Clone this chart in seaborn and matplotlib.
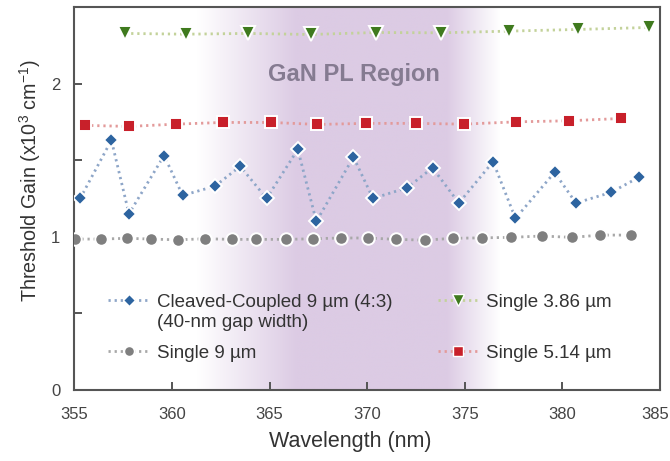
import numpy as np
import pandas as pd
import matplotlib
matplotlib.use("Agg")
import matplotlib.pyplot as plt
import matplotlib.transforms as mtransforms
from matplotlib.lines import Line2D
import seaborn as sns

# ---------------- data ----------------
cc_wl = [355.3, 356.9, 357.8, 359.6, 360.55, 362.2, 363.5, 364.85, 366.45, 367.4, 369.3,
         370.3, 372.05, 373.35, 374.7, 376.45, 377.6, 379.6, 380.7, 382.5, 383.95]
cc_gain = [1.25, 1.63, 1.15, 1.53, 1.27, 1.33, 1.46, 1.25, 1.57, 1.10, 1.52,
           1.25, 1.32, 1.45, 1.22, 1.49, 1.12, 1.42, 1.22, 1.29, 1.39]

s9_wl = [355.05, 356.35, 357.7, 358.95, 360.3, 361.7, 363.1, 364.3, 365.85, 367.25, 368.65,
         370.05, 371.5, 372.95, 374.4, 375.9, 377.35, 378.95, 380.5, 381.95, 383.5]
s9_gain = [0.985, 0.985, 0.99, 0.985, 0.98, 0.987, 0.983, 0.983, 0.983, 0.987, 0.992,
           0.992, 0.983, 0.978, 0.99, 0.993, 0.996, 1.005, 0.996, 1.011, 1.011]

s386_wl = [357.6, 360.7, 363.9, 367.1, 370.45, 373.8, 377.25, 380.8, 384.45]
s386_gain = [2.327, 2.322, 2.327, 2.32, 2.333, 2.331, 2.342, 2.353, 2.366]

s514_wl = [355.55, 357.8, 360.2, 362.6, 365.1, 367.45, 369.95, 372.5, 374.95, 377.65, 380.35, 383.0]
s514_gain = [1.727, 1.72, 1.735, 1.746, 1.746, 1.733, 1.74, 1.74, 1.735, 1.75, 1.757, 1.772]

x_ticks = [355, 360, 365, 370, 375, 380, 385]
y_ticks = [0, 0.5, 1, 1.5, 2]
y_labels = ["0", "", "1", "", "2"]
pl_region = (361.3, 366.4, 374.1, 376.8)   # fade-in start, plateau start, plateau end, fade-out end

# ---------------- style ----------------
sns.set_theme(style="white")
plt.rcParams['font.family'] = ['Liberation Sans', 'DejaVu Sans']
plt.rcParams['mathtext.fontset'] = 'custom'
plt.rcParams['mathtext.rm'] = 'Liberation Sans'
plt.rcParams['mathtext.it'] = 'Liberation Sans:italic'
plt.rcParams['mathtext.bf'] = 'Liberation Sans:bold'

fig = plt.figure(figsize=(6.70, 4.61), dpi=100)
ax = fig.add_axes([0.1109, 0.154, 0.8741, 0.831])

# PL region gradient
xs = np.linspace(355, 385, 600)
a0, a1, a2, a3 = pl_region
alpha = np.interp(xs, [a0, a1, a2, a3], [0, 1, 1, 0])
base = np.array([220, 203, 228]) / 255.0
rgb = 1 - alpha[:, None] * (1 - base[None, :])
img = np.tile(rgb[None, :, :], (2, 1, 1))
ax.imshow(img, extent=[355, 385, 0, 2.5], aspect='auto', zorder=0, interpolation='bilinear')

dot = (0, (0.8, 1.4))
series = [
    (cc_wl, cc_gain, "Cleaved-Coupled 9 µm (4:3)", 'D', '#2d64a0', '#8ea6c8', 7.2),
    (s9_wl, s9_gain, "Single 9 µm", 'o', '#7f7f7f', '#a8a8a8', 9.0),
    (s386_wl, s386_gain, "Single 3.86 µm", 'v', '#3f7a1e', '#c3d29a', 10.5),
    (s514_wl, s514_gain, "Single 5.14 µm", 's', '#c8202a', '#e39a9a', 8.8),
]
handles = {}
for wl, g, lab, mk, mc, lc, ms in series:
    df = pd.DataFrame({"wl": wl, "g": g})
    sns.lineplot(data=df, x="wl", y="g", ax=ax, sort=False, color=lc, lw=2.0,
                 linestyle=dot, zorder=2, legend=False)
    ax.plot(wl, g, linestyle='none', marker=mk, markersize=ms, markerfacecolor=mc,
            markeredgecolor='white', markeredgewidth=1.4, zorder=3)
    handles[lab] = Line2D([], [], color=lc, lw=2.0, linestyle=dot, marker=mk,
                          markersize=ms * 0.8, markerfacecolor=mc,
                          markeredgecolor='white', markeredgewidth=1.0)

blank = Line2D([], [], linestyle='none', marker=None)
leg_kw = dict(frameon=False, loc='upper left', borderpad=0, borderaxespad=0,
              handlelength=2.2, handletextpad=0.4, columnspacing=2.4,
              labelspacing=0.2, fontsize=13.5, labelcolor='#333333')
# upper legend rows (two-line entry on the left, single entry on the right)
leg1 = ax.legend([handles["Cleaved-Coupled 9 µm (4:3)"], blank, handles["Single 3.86 µm"], blank],
                 ["Cleaved-Coupled 9 µm (4:3)", "(40-nm gap width)", "Single 3.86 µm", " "],
                 ncol=2, bbox_to_anchor=(0.058, 0.252), **leg_kw)
ax.add_artist(leg1)
# lower legend row, one entry per column
leg2 = ax.legend([handles["Single 9 µm"]], ["Single 9 µm"],
                 bbox_to_anchor=(0.058, 0.119), **leg_kw)
ax.add_artist(leg2)
ax.legend([handles["Single 5.14 µm"]], ["Single 5.14 µm"],
          bbox_to_anchor=(0.6205, 0.119), **leg_kw)

ax.text(369.3, 2.06, "GaN PL Region", fontsize=17, fontweight='bold', color='#857b91',
        ha='center', va='center', zorder=1)

ax.set_xlim(355, 385)
ax.set_ylim(0, 2.5)
ax.set_xticks(x_ticks)
ax.set_xticklabels([str(t) for t in x_ticks])
ax.set_yticks(y_ticks)
ax.set_yticklabels(y_labels)
ax.tick_params(direction='in', length=6, width=1.4, color='#555555', labelsize=12,
               labelcolor='#444444', bottom=True, left=True)
ax.tick_params(axis='x', pad=12)
ax.tick_params(axis='y', pad=10)
# nudge the last x label left so it stays inside the figure
last = ax.get_xticklabels()[-1]
last.set_transform(last.get_transform() + mtransforms.ScaledTranslation(-5 / 100, 0, fig.dpi_scale_trans))
for sp in ax.spines.values():
    sp.set_color('#555555')
    sp.set_linewidth(1.5)
ax.set_xlabel("Wavelength (nm)", fontsize=15.5, color='#333333', labelpad=7)
ax.set_ylabel("Threshold Gain (x10$^{3}$ cm$^{-1}$)", fontsize=14.2, color='#333333', labelpad=6)
ax.xaxis.label.set_x(0.471)
ax.yaxis.label.set_y(0.546)

fig.savefig("out.png", dpi=100)
